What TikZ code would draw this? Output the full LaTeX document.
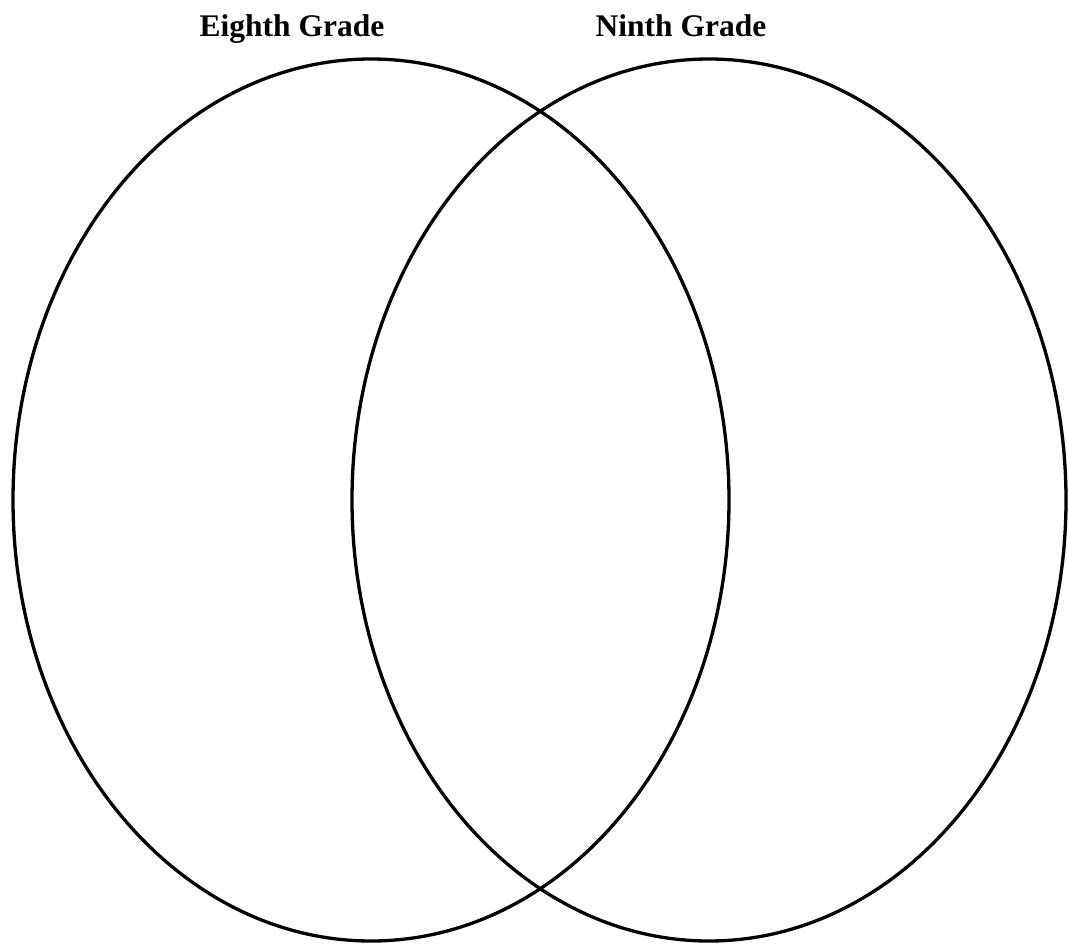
\documentclass[tikz,border=0pt]{standalone}
\usepackage{fontspec}
\setmainfont{Liberation Serif}
\begin{document}
\begin{tikzpicture}[x=1pt,y=-1pt,
  ring/.style={draw=black,line width=3.3pt},
  title/.style={font=\fontsize{31.5}{34}\selectfont\bfseries,inner sep=0pt,anchor=base}]
\useasboundingbox (0,0) rectangle (1068,944);
\draw[ring] (371,500) ellipse [x radius=358,y radius=441];
\draw[ring] (709,500) ellipse [x radius=357,y radius=441];
\node[title] (eighth) at (292,37) {Eighth Grade};
\node[title] (ninth) at (681,37) {Ninth Grade};
\end{tikzpicture}
\end{document}
